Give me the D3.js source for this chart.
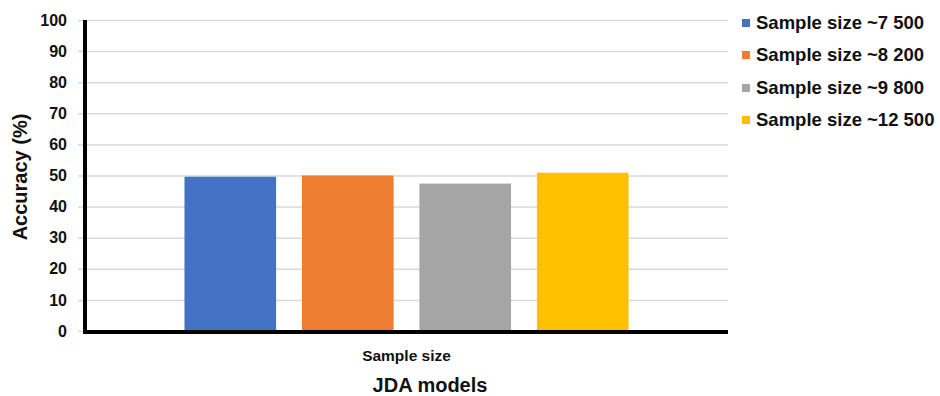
<!DOCTYPE html>
<html>
<head>
<meta charset="utf-8">
<script src="https://cdn.jsdelivr.net/npm/d3@7"></script>
<style>
  html, body { margin: 0; padding: 0; background: #fff; }
  svg { display: block; font-family: "Liberation Sans", Arial, sans-serif; }
</style>
</head>
<body>
<svg id="chart" width="940" height="396"></svg>
<script>
// Accuracy of JDA models by training sample size
const categories = ["Sample size"];
const seriesNames = ["Sample size ~7 500", "Sample size ~8 200", "Sample size ~9 800", "Sample size ~12 500"];
const seriesValues = [49.6, 50.0, 47.4, 50.9];
const seriesColors = ["#4472C4", "#ED7D31", "#A5A5A5", "#FFC000"];
const yTicks = [0, 10, 20, 30, 40, 50, 60, 70, 80, 90, 100];

const svg = d3.select("#chart");
const margin = { left: 85, right: 212, top: 20, bottom: 65 };
const W = 940, H = 396;
const plotRight = W - margin.right;
const plotBottom = H - margin.bottom;

const y = d3.scaleLinear().domain([0, 100]).range([plotBottom, margin.top]);
const x0 = d3.scaleBand().domain(categories).range([margin.left, plotRight])
  .paddingInner(0).paddingOuter(0.224);
const x1 = d3.scaleBand().domain(seriesNames).range([0, x0.bandwidth()])
  .paddingInner(0.22).paddingOuter(0);

// Horizontal gridlines and y ticks
const yAxis = d3.axisLeft(y).tickValues(yTicks).tickSize(-(plotRight - margin.left)).tickSizeOuter(0).tickPadding(18);
const gy = svg.append("g").attr("transform", `translate(${margin.left},0)`).call(yAxis);
gy.select(".domain").remove();
gy.selectAll(".tick line").attr("stroke", "#d9d9d9").attr("stroke-width", 1.5).attr("x1", -7);
gy.selectAll(".tick text")
  .attr("fill", "#111").attr("font-size", 16).attr("font-weight", "bold")
  .attr("font-family", "'Liberation Sans', Arial, sans-serif");

// Bars
const groups = svg.append("g").selectAll("g").data(categories).join("g")
  .attr("transform", d => `translate(${x0(d)},0)`);
groups.selectAll("rect")
  .data(() => seriesNames.map((name, i) => ({ name, value: seriesValues[i], color: seriesColors[i] })))
  .join("rect")
  .attr("x", d => x1(d.name))
  .attr("width", x1.bandwidth())
  .attr("y", d => y(d.value))
  .attr("height", d => y(0) - y(d.value))
  .attr("fill", d => d.color);

// Axis lines
svg.append("line").attr("x1", margin.left).attr("x2", margin.left)
  .attr("y1", margin.top).attr("y2", plotBottom + 2)
  .attr("stroke", "#000").attr("stroke-width", 4);
svg.append("line").attr("x1", margin.left - 2).attr("x2", plotRight)
  .attr("y1", plotBottom + 1).attr("y2", plotBottom + 1)
  .attr("stroke", "#000").attr("stroke-width", 4);

// Category label
const xAxis = d3.axisBottom(x0).tickSize(0).tickPadding(19);
const gx = svg.append("g").attr("transform", `translate(0,${plotBottom})`).call(xAxis);
gx.select(".domain").remove();
gx.selectAll(".tick text").attr("fill", "#111").attr("font-size", 15.5).attr("font-weight", "bold")
  .attr("font-family", "'Liberation Sans', Arial, sans-serif");

// Axis titles
svg.append("text").attr("x", 430).attr("y", 392).attr("text-anchor", "middle")
  .attr("font-size", 20).attr("font-weight", "bold").attr("fill", "#111").text("JDA models");
svg.append("text").attr("transform", `translate(27,177) rotate(-90)`).attr("text-anchor", "middle")
  .attr("font-size", 20).attr("font-weight", "bold").attr("fill", "#111").text("Accuracy (%)");

// Legend
const legend = svg.append("g").attr("transform", "translate(742,0)");
const rowY = [23, 55, 88, 120];
const items = legend.selectAll("g").data(seriesNames).join("g")
  .attr("transform", (d, i) => `translate(0,${rowY[i]})`);
items.append("rect").attr("x", 0).attr("y", -4).attr("width", 8).attr("height", 8)
  .attr("fill", (d, i) => seriesColors[i]);
items.append("text").attr("x", 14).attr("dy", "0.35em")
  .attr("font-size", 18.5).attr("font-weight", "bold").attr("fill", "#111").text(d => d);
</script>
</body>
</html>
